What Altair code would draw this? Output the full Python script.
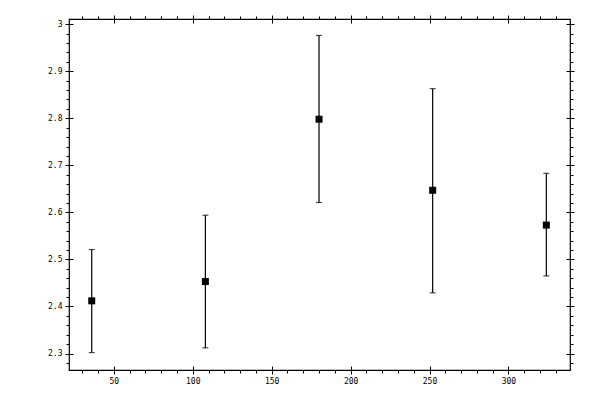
import altair as alt
import pandas as pd

# data
xs = [36, 108, 180, 252, 324]
ys = [2.412, 2.453, 2.798, 2.647, 2.573]
lows = [2.302, 2.312, 2.621, 2.429, 2.465]
highs = [2.521, 2.594, 2.976, 2.863, 2.683]

x_major = [50, 100, 150, 200, 250, 300]
x_minor = list(range(30, 340, 10))
y_major = [2.3, 2.4, 2.5, 2.6, 2.7, 2.8, 2.9, 3.0]
y_minor = [round(2.28 + 0.02 * i, 2) for i in range(37)]

df = pd.DataFrame({"x": xs, "y": ys, "lo": lows, "hi": highs})

xscale = alt.Scale(domain=[21.6, 339.0], nice=False, zero=False)
yscale = alt.Scale(domain=[2.265, 3.011], nice=False, zero=False)

FONT = "DejaVu Sans Mono"


def major_axis(orient, labels):
    horiz = orient in ("top", "bottom")
    return alt.Axis(
        orient=orient, values=(x_major if horiz else y_major),
        tickSize=8, offset=-4, domain=False, grid=False, labels=labels,
        labelFont=FONT, labelFontSize=8, labelColor="black", labelPadding=3,
        tickColor="black", tickWidth=1, title=None,
        format=("d" if horiz else ".2~f"), labelFlush=False,
    )


def minor_axis(orient):
    return alt.Axis(
        orient=orient, values=(x_minor if orient in ("top", "bottom") else y_minor),
        tickSize=3, offset=0, domain=False, grid=False, labels=False,
        tickColor="black", tickWidth=1, title=None,
    )


base = alt.Chart(df)

rules = base.mark_rule(color="black", strokeWidth=1.2).encode(
    x=alt.X("x:Q", scale=xscale, axis=major_axis("bottom", True)),
    y=alt.Y("lo:Q", scale=yscale, axis=major_axis("left", True)),
    y2="hi:Q",
)

caps_lo = base.mark_tick(color="black", orient="horizontal", size=6, thickness=1.2).encode(
    x=alt.X("x:Q", scale=xscale, axis=minor_axis("bottom")),
    y=alt.Y("lo:Q", scale=yscale, axis=minor_axis("left")),
)

caps_hi = base.mark_tick(color="black", orient="horizontal", size=6, thickness=1.2).encode(
    x=alt.X("x:Q", scale=xscale, axis=major_axis("top", False)),
    y=alt.Y("hi:Q", scale=yscale, axis=major_axis("right", False)),
)

points = base.mark_square(color="black", size=49, opacity=1).encode(
    x=alt.X("x:Q", scale=xscale, axis=minor_axis("top")),
    y=alt.Y("y:Q", scale=yscale, axis=minor_axis("right")),
)

chart = (
    alt.layer(rules, caps_lo, caps_hi, points)
    .resolve_axis(x="independent", y="independent")
    .properties(
        width=501,
        height=351,
        autosize=alt.AutoSizeParams(type="none"),
        padding={"left": 61, "top": 11, "right": 20, "bottom": 20},
    )
    .configure_view(stroke="black", strokeWidth=1.2)
)

chart.save("out.html", embed_options={"renderer": "svg", "actions": False})
